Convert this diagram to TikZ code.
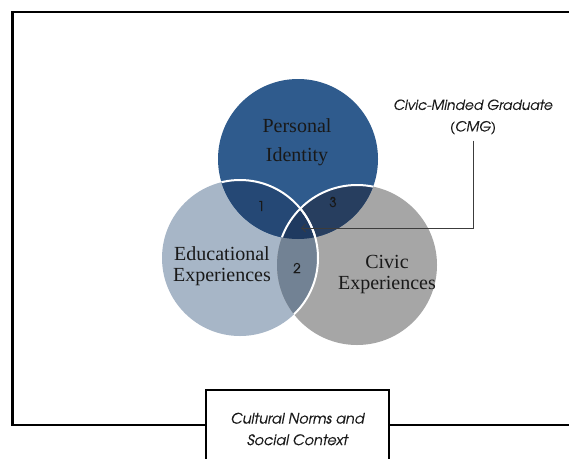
\documentclass[tikz,border=0pt]{standalone}
\usepackage{fontspec}
\setmainfont{Liberation Serif}
\newfontfamily\gothic[FakeBold=0.35]{TeX Gyre Adventor}
\usetikzlibrary{arrows.meta}

% region colours of the three-set diagram
\definecolor{persCol}{RGB}{47,91,141}
\definecolor{eduCol}{RGB}{167,182,199}
\definecolor{civCol}{RGB}{166,166,166}
\definecolor{peCol}{RGB}{37,72,117}
\definecolor{pcCol}{RGB}{39,62,95}
\definecolor{ecCol}{RGB}{114,130,148}
\definecolor{pecCol}{RGB}{31,58,96}
\definecolor{lineCol}{RGB}{60,60,60}

\begin{document}
\begin{tikzpicture}[x=1pt,y=-1pt,
  setlabel/.style={font=\fontsize{20}{21}\selectfont, align=center, inner sep=0pt, text=black!90},
  regionnum/.style={font=\gothic\fontsize{13.5}{13.5}\selectfont, inner sep=0pt, text=black!90},
  note/.style={font=\gothic\itshape\fontsize{13.8}{21.5}\selectfont, align=center, inner sep=1pt, text=black!90},
  contextbox/.style={draw=black, line width=2pt, fill=white, minimum width=183pt, minimum height=78pt, anchor=north},
  pointer/.style={draw=lineCol, line width=0.8pt, -{Straight Barb[length=4pt,width=8pt]}},
  outline/.style={draw=white, line width=2pt}]

\useasboundingbox (0,0) rectangle (569,458);
\clip (0,0) rectangle (569,458);
\fill[white] (0,0) rectangle (569,458);

% outer frame (runs off the right edge)
\draw[line width=2.5pt] (600,425) -| (12.5,12) -- (600,12);

% circle centres
\coordinate (pc) at (298,159);
\coordinate (ec) at (240,258);
\coordinate (cc) at (357,265);
\def\persCirc{(pc) circle[radius=80pt]}
\def\eduCirc{(ec) circle[radius=78pt]}
\def\civCirc{(cc) circle[radius=80pt]}

% single sets
\fill[eduCol] \eduCirc;
\fill[civCol] \civCirc;
\fill[persCol] \persCirc;

% pairwise overlaps
\begin{scope}\clip \persCirc; \fill[peCol] \eduCirc; \end{scope}
\begin{scope}\clip \persCirc; \fill[pcCol] \civCirc; \end{scope}
\begin{scope}\clip \eduCirc; \fill[ecCol] \civCirc; \end{scope}
% triple overlap
\begin{scope}\clip \persCirc; \clip \eduCirc; \fill[pecCol] \civCirc; \end{scope}

% white borders
\begin{scope}\clip \persCirc; \path[outline] \civCirc; \path[outline] \eduCirc; \end{scope}
\begin{scope}\clip \civCirc; \path[outline] \eduCirc; \end{scope}

% set labels
\node[setlabel, font=\fontsize{20}{29}\selectfont] (pers) at (297,142) {Personal\\Identity};
\node[setlabel] (edu) at (222,266) {Educational\\Experiences};
\node[setlabel] (civ) at (387,275) {Civic\\Experiences};

% region numbers
\node[regionnum] (r1) at (261,206) {1};
\node[regionnum] (r3) at (333,202) {3};
\node[regionnum] (r2) at (297,268) {2};

% CMG callout
\node[note] (cmg) at (473,117) {Civic-Minded Graduate\\(CMG)};
\coordinate (tip) at (301,228);
\draw[pointer] (cmg.south) ++(0,5) |- (tip);

% context box
\node[contextbox, note, align=center, font=\gothic\itshape\fontsize{14.4}{21.5}\selectfont] (ctx) at (297.5,389) {Cultural Norms and\\Social Context};
\end{tikzpicture}
\end{document}
